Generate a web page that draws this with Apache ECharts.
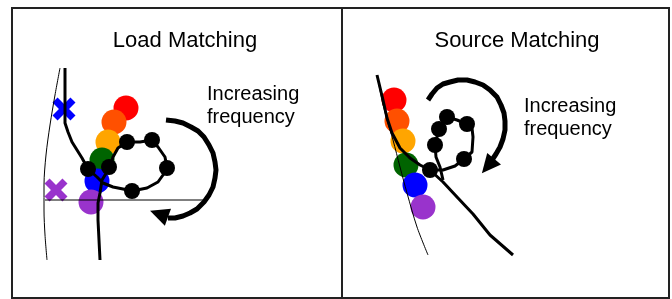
<!DOCTYPE html>
<html>
<head>
<meta charset="utf-8">
<script src="https://cdn.jsdelivr.net/npm/echarts@6/dist/echarts.min.js"></script>
<style>
  html, body { margin: 0; padding: 0; background: #fff; }
  #main { width: 672px; height: 299px; }
</style>
</head>
<body>
<div id="main"></div>
<script>
// texts
const panelTitles = ['Load Matching', 'Source Matching']
const arrowLabel = ['Increasing', 'frequency']
const dotColors = ['#ff0000', '#ff5000', '#ffa500', '#006400', '#0000ff', '#9933cc']

// load matching panel (x, y)
const loadEdge = [[60, 68], [55, 95], [50, 125], [46, 155], [44, 185], [44, 210], [45, 235], [47, 260]]
const loadRef = [[45, 200], [203, 200]]
const loadTrace = [[65, 68], [65, 123], [68, 132], [72, 142], [77, 150], [82, 158], [88, 169], [97, 177],
  [103, 183], [113, 187], [123, 189], [132, 191], [147, 188], [158, 182], [163, 175], [167, 168], [165, 157],
  [158, 147], [152, 140], [140, 142], [127, 142], [118, 148], [113, 157], [110, 167], [102, 180], [100, 193],
  [98, 203], [98, 220], [99, 240], [100, 260]]
const loadSteps = [[88, 169], [109, 167], [127, 142], [152, 140], [167, 168], [132, 191]]
const loadColored = [[126, 108], [114, 122], [108, 142], [102, 160], [97, 181], [91, 202]]
const loadCross = [[64, 109], [56, 190]]
const loadArrow = [[166, 120], [175, 121], [183, 123], [191, 127], [198, 131], [204, 137], [209, 145],
  [213, 153], [215, 162], [216, 170], [215, 178], [213, 187], [209, 195], [204, 202], [197, 209],
  [190, 213], [183, 216], [175, 218], [168, 218]]
const loadHead = [[159, 214]]

// source matching panel
const sourceEdge = [[377, 75], [382, 100], [387, 120], [393, 140], [400, 167], [407, 193], [417, 227], [428, 255]]
const sourceTrace = [[377, 75], [383, 100], [387, 118], [392, 133], [400, 148], [410, 158], [420, 165],
  [430, 170], [443, 182], [457, 197], [473, 214], [490, 235], [513, 255]]
const sourceLoop = [[430, 170], [443, 170], [455, 166], [464, 159], [472, 152], [473, 137], [472, 128],
  [467, 124], [457, 120], [447, 117], [439, 129], [435, 145], [436, 157], [440, 167], [443, 180]]
const sourceSteps = [[430, 170], [464, 159], [467, 124], [447, 117], [439, 129], [435, 145]]
const sourceColored = [[394, 100], [397, 121], [403, 141], [406, 165], [415, 185], [423, 207]]
const sourceArrow = [[428, 100], [432, 94], [437, 88], [443, 84], [450, 82], [458, 80], [467, 80],
  [475, 82], [483, 85], [490, 90], [497, 97], [501, 105], [504, 113], [505, 121], [505, 130],
  [503, 139], [500, 147], [496, 154], [492, 160]]
const sourceHead = [[488, 166]]

const crossPath = 'path://M0,2.2L2.2,0L5,2.8L7.8,0L10,2.2L7.2,5L10,7.8L7.8,10L5,7.2L2.2,10L0,7.8L2.8,5Z'

function line(data, idx, width, smooth) {
  return {
    type: 'line', data: data, xAxisIndex: idx, yAxisIndex: idx,
    symbol: 'none', smooth: smooth, silent: true,
    lineStyle: { color: '#000', width: width, cap: 'butt', join: 'round' }
  }
}
function dots(data, idx, size, colors) {
  return {
    type: 'scatter', xAxisIndex: idx, yAxisIndex: idx, symbolSize: size, silent: true,
    data: data.map((p, i) => ({ value: p, itemStyle: { color: colors ? colors[i] : '#000', opacity: 1 } }))
  }
}
function head(data, idx, rot) {
  return {
    type: 'scatter', xAxisIndex: idx, yAxisIndex: idx, symbol: 'triangle',
    symbolSize: [18, 19], symbolRotate: rot, silent: true,
    data: data, itemStyle: { color: '#000', opacity: 1 }
  }
}

const chart = echarts.init(document.getElementById('main'), null, { renderer: 'canvas' })
const font = 'Liberation Sans, Arial, sans-serif'
chart.setOption({
  animation: false,
  grid: [
    { left: 12, top: 8, width: 330, height: 290, show: true, borderColor: '#222', borderWidth: 2 },
    { left: 342, top: 8, width: 327, height: 290, show: true, borderColor: '#222', borderWidth: 2 }
  ],
  xAxis: [
    { type: 'value', gridIndex: 0, min: 12, max: 342, show: false },
    { type: 'value', gridIndex: 1, min: 342, max: 669, show: false }
  ],
  yAxis: [
    { type: 'value', gridIndex: 0, min: 8, max: 298, inverse: true, show: false },
    { type: 'value', gridIndex: 1, min: 8, max: 298, inverse: true, show: false }
  ],
  graphic: [
    { type: 'text', x: 185, y: 41, style: { text: panelTitles[0], font: '22px ' + font, fill: '#000', align: 'center', verticalAlign: 'middle' } },
    { type: 'text', x: 517, y: 41, style: { text: panelTitles[1], font: '22px ' + font, fill: '#000', align: 'center', verticalAlign: 'middle' } },
    { type: 'text', x: 207, y: 94, style: { text: arrowLabel[0], font: '20px ' + font, fill: '#000', verticalAlign: 'middle' } },
    { type: 'text', x: 207, y: 117, style: { text: arrowLabel[1], font: '20px ' + font, fill: '#000', verticalAlign: 'middle' } },
    { type: 'text', x: 524, y: 106, style: { text: arrowLabel[0], font: '20px ' + font, fill: '#000', verticalAlign: 'middle' } },
    { type: 'text', x: 524, y: 129, style: { text: arrowLabel[1], font: '20px ' + font, fill: '#000', verticalAlign: 'middle' } }
  ],
  series: [
    line(loadEdge, 0, 1, 0.3),
    line(loadRef, 0, 1, false),
    dots(loadColored, 0, 25, dotColors),
    {
      type: 'scatter', xAxisIndex: 0, yAxisIndex: 0, symbol: crossPath, symbolSize: 23, silent: true,
      data: loadCross.map((p, i) => ({ value: p, itemStyle: { color: i === 0 ? dotColors[4] : dotColors[5], opacity: 1 } }))
    },
    line(loadTrace, 0, 3, false),
    dots(loadSteps, 0, 16),
    line(loadArrow, 0, 5, false),
    head(loadHead, 0, 70),

    line(sourceEdge, 1, 1, 0.3),
    dots(sourceColored, 1, 25, dotColors),
    line(sourceTrace, 1, 3, false),
    line(sourceLoop, 1, 3, false),
    dots(sourceSteps, 1, 16),
    line(sourceArrow, 1, 5, false),
    head(sourceHead, 1, 140)
  ]
})
</script>
</body>
</html>
